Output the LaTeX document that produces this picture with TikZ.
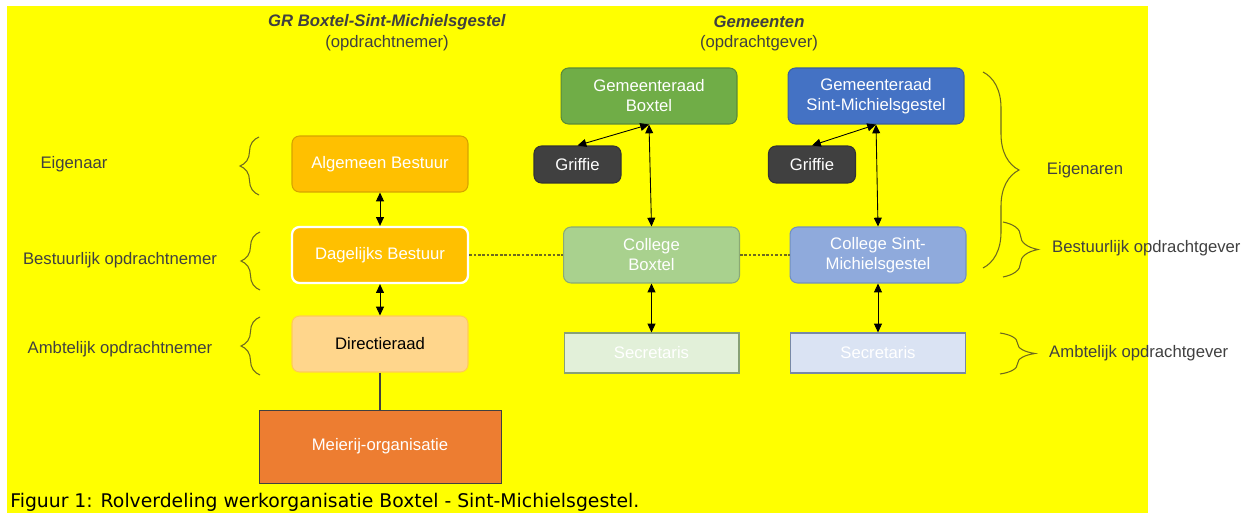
\documentclass[tikz,border=0pt]{standalone}
\usepackage{fontspec}
\setmainfont{Liberation Sans}
\newfontfamily\captionfont{DejaVu Sans}
\usetikzlibrary{arrows.meta,decorations.pathreplacing}

\definecolor{bgyellow}{HTML}{FFFF00}
\definecolor{darktext}{HTML}{404040}
\definecolor{bracecol}{HTML}{6E6A1E}
\definecolor{abfill}{HTML}{FFC000}
\definecolor{abline}{HTML}{D6A300}
\definecolor{drfill}{HTML}{FFD68C}
\definecolor{drline}{HTML}{FFCB55}
\definecolor{mofill}{HTML}{ED7D31}
\definecolor{grbfill}{HTML}{70AD47}
\definecolor{grbline}{HTML}{5A8A38}
\definecolor{grsfill}{HTML}{4472C4}
\definecolor{grsline}{HTML}{3A5F9F}
\definecolor{cbfill}{HTML}{A9D18E}
\definecolor{cbline}{HTML}{8AAA74}
\definecolor{csfill}{HTML}{8FAADC}
\definecolor{csline}{HTML}{7390C0}
\definecolor{sbfill}{HTML}{E2F0D9}
\definecolor{ssfill}{HTML}{DAE3F3}

\begin{document}
\begin{tikzpicture}[x=0.02cm, y=-0.02cm,
    every node/.style={font=\fontsize{9.5}{11.4}\selectfont, align=center, text=darktext},
    box/.style={draw, rounded corners=0.15cm, minimum width=3.52cm, minimum height=1.12cm, text=white, line width=0.6pt},
    griffiebox/.style={box, fill=darktext, draw=darktext!80!black, minimum width=1.74cm, minimum height=0.74cm},
    secbox/.style={draw, minimum width=3.5cm, minimum height=0.8cm, text=white, line width=0.6pt},
    twoway/.style={{Triangle[length=5pt,width=4.5pt]}-{Triangle[length=5pt,width=4.5pt]}, line width=0.5pt},
    linkline/.style={bracecol, line width=0.6pt, dash pattern=on 1.5pt off 1pt},
    bracket/.style={bracecol, line width=0.6pt, decorate, decoration={brace, amplitude=#1}},
    side/.style={anchor=west}
  ]
  \useasboundingbox (0,0) rectangle (1253,513);
  \fill[white] (0,0) rectangle (1253,513);
  \fill[bgyellow] (7,6) rectangle (1148,513);

  % column titles
  \node (grtitle) at (387,22) {\textbf{\textit{GR Boxtel-Sint-Michielsgestel}}};
  \node (grsub) at (387,43) {(opdrachtnemer)};
  \node (gemtitle) at (759,22) {\textbf{\textit{Gemeenten}}};
  \node (gemsub) at (759,43) {(opdrachtgever)};

  % GR side
  \node[box, fill=abfill, draw=abline] (ab) at (380,164) {Algemeen Bestuur};
  \node[box, fill=abfill, draw=white, line width=1.3pt] (db) at (380,255) {Dagelijks Bestuur};
  \node[box, fill=drfill, draw=drline, text=black] (dr) at (380,344) {Directieraad};
  \node[draw=darktext, fill=mofill, text=white, minimum width=4.84cm, minimum height=1.46cm, line width=0.5pt] (mo) at (380,446.5) {Meierij-organisatie};

  % gemeenten
  \node[box, fill=grbfill, draw=grbline] (gb) at (649,96) {Gemeenteraad\\Boxtel};
  \node[box, fill=grsfill, draw=grsline] (gs) at (876,96) {Gemeenteraad\\Sint-Michielsgestel};
  \node[griffiebox] (grb) at (577.5,164.5) {Griffie};
  \node[griffiebox] (grs) at (812,164.5) {Griffie};
  \node[box, fill=cbfill, draw=cbline] (cb) at (651.5,255) {College\\Boxtel};
  \node[box, fill=csfill, draw=csline] (cs) at (878,255) {College Sint-\\Michielsgestel};
  \node[secbox, fill=sbfill, draw=cbline!80!gray] (sb) at (651.5,353) {Secretaris};
  \node[secbox, fill=ssfill, draw=csline!60!gray] (ss) at (878,353) {Secretaris};

  % connectors
  \draw[twoway] (ab) -- (db);
  \draw[twoway] (db) -- (dr);
  \draw[darktext, line width=0.6pt] (dr) -- (mo);
  \draw[twoway] (grb.north) -- (gb.south);
  \draw[twoway] (gb.south) -- (cb.north);
  \draw[twoway] (cb) -- (sb);
  \draw[twoway] (grs.north) -- (gs.south);
  \draw[twoway] (gs.south) -- (cs.north);
  \draw[twoway] (cs) -- (ss);
  \draw[linkline] (db) -- (cb);
  \draw[linkline] (cb) -- (cs);

  % braces and roles
  \draw[bracket=0.38cm] (259,195) -- (259,137);
  \draw[bracket=0.38cm] (260,290) -- (260,232);
  \draw[bracket=0.38cm] (260,375) -- (260,317);
  \node (eigenaar) at (74,164) {Eigenaar};
  \node (bestnemer) at (120,260) {Bestuurlijk opdrachtnemer};
  \node (ambtnemer) at (120,349) {Ambtelijk opdrachtnemer};

  \draw[bracket=0.72cm] (983,72) -- (983,268);
  \draw[bracket=0.7cm] (1003,222) -- (1003,277);
  \draw[bracket=0.7cm] (1000,333) -- (1000,374);
  \node (eigenaren) at (1085,170) {Eigenaren};
  \node[side] (bestgever) at (1046,248) {Bestuurlijk opdrachtgever};
  \node[side] (ambtgever) at (1043,353) {Ambtelijk opdrachtgever};

  % caption
  \node[anchor=base west, inner sep=0, text=black, font=\captionfont\fontsize{10.7}{12}\selectfont] (caption) at (10,507.5)
    {Figuur 1: Rolverdeling werkorganisatie Boxtel - Sint-Michielsgestel.};
\end{tikzpicture}
\end{document}
